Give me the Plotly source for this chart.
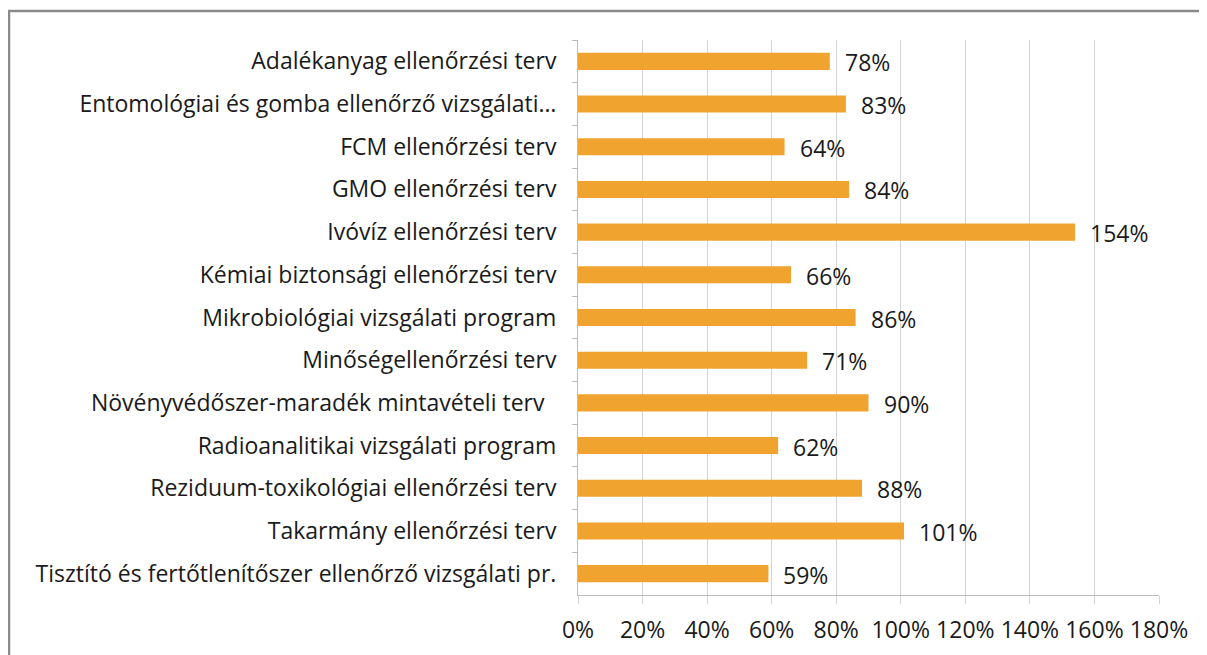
import plotly.graph_objects as go

categories = [
    "Adalékanyag ellenőrzési terv",
    "Entomológiai és gomba ellenőrző vizsgálati…",
    "FCM ellenőrzési terv",
    "GMO ellenőrzési terv",
    "Ivóvíz ellenőrzési terv",
    "Kémiai biztonsági ellenőrzési terv",
    "Mikrobiológiai vizsgálati program",
    "Minőségellenőrzési terv",
    "Növényvédőszer-maradék mintavételi terv\u00a0\u00a0",
    "Radioanalitikai vizsgálati program",
    "Reziduum-toxikológiai ellenőrzési terv",
    "Takarmány ellenőrzési terv",
    "Tisztító és fertőtlenítőszer ellenőrző vizsgálati pr.",
]
values = [78, 83, 64, 84, 154, 66, 86, 71, 90, 62, 88, 101, 59]
x_ticks = [0, 20, 40, 60, 80, 100, 120, 140, 160, 180]
x_ticklabels = [f"{v}%" for v in x_ticks]

FONT = "Open Sans"
FS = 23
TXT = "#1a1a1a"

W, H = 1207, 655
L, R, T, B = 570, 56, 32, 68
PW, PH = W - L - R, H - T - B

fig = go.Figure()
fig.add_trace(go.Bar(
    x=values, y=categories, orientation="h",
    marker=dict(color="#F0A32F", line=dict(width=0)),
    width=0.4, hoverinfo="x+y",
))

for c, v in zip(categories, values):
    fig.add_annotation(x=v, y=c, text=f"{v}%", showarrow=False,
                       xanchor="left", xshift=13, yshift=-1,
                       font=dict(family=FONT, size=FS, color=TXT))

fig.update_layout(
    width=W, height=H,
    margin=dict(l=L, r=R, t=T, b=B),
    paper_bgcolor="white", plot_bgcolor="white",
    showlegend=False,
    font=dict(family=FONT, size=FS, color=TXT),
    xaxis=dict(range=[0, 180], tickvals=x_ticks, ticktext=x_ticklabels,
               showgrid=True, gridcolor="#d4d4d4", gridwidth=1,
               showline=True, linecolor="#bcbcbc", linewidth=1,
               ticks="outside", ticklen=8, tickcolor="#d4d4d4",
               ticklabelstandoff=6,
               zeroline=False, fixedrange=True,
               tickfont=dict(family=FONT, size=FS, color=TXT)),
    yaxis=dict(categoryorder="array", categoryarray=categories,
               autorange="reversed", tickson="boundaries",
               showline=True, linecolor="#bcbcbc", linewidth=1,
               ticks="outside", ticklen=5, tickcolor="#bcbcbc",
               showgrid=False, ticklabelstandoff=16,
               tickfont=dict(family=FONT, size=FS, color=TXT)),
    shapes=[dict(type="rect", xref="paper", yref="paper",
                 x0=(1 - L) / PW, x1=1 + (R + 30) / PW,
                 y0=-(B + 30) / PH, y1=1 + (T - 3) / PH,
                 line=dict(color="#8a8a8a", width=2.5), layer="below")],
)

fig.write_html("out.html")
